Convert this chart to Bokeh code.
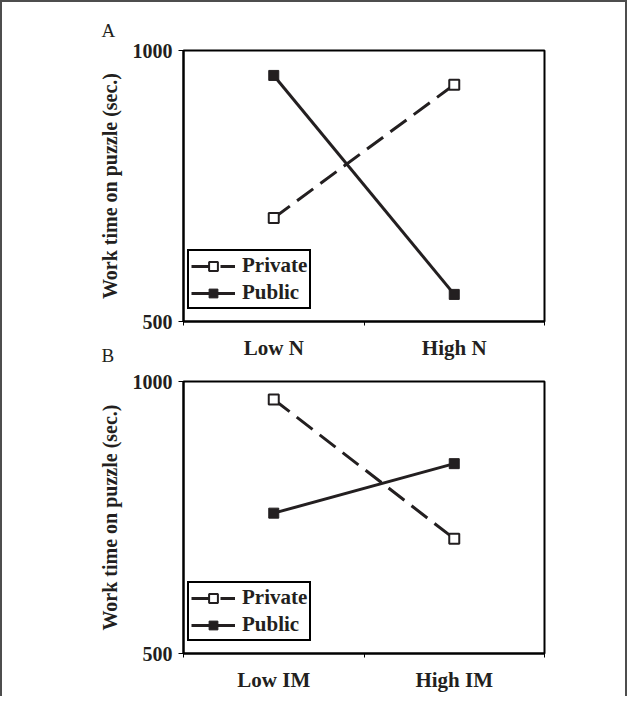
from bokeh.plotting import figure
from bokeh.models import Range1d, FixedTicker, Legend, LegendItem, Title
from bokeh.layouts import column
from bokeh.embed import file_html
from bokeh.resources import INLINE

# ---- data ----
categories_a = ["Low N", "High N"]
private_a = [691, 937]
public_a = [954, 550]

categories_b = ["Low IM", "High IM"]
private_b = [967, 711]
public_b = [758, 849]

y_ticks = [500, 1000]
y_title = "Work time on puzzle (sec.)"
series_names = ["Private", "Public"]
panel_labels = ["A", "B"]

INK = "#231f20"
FONT = "Liberation Serif"


def make_panel(cats, priv, pub, height, b_top, b_bottom, label, label_standoff):
    n = len(cats)
    xs = [i + 0.5 for i in range(n)]
    p = figure(width=623, height=height,
               x_range=Range1d(0, n), y_range=Range1d(y_ticks[0], y_ticks[-1]),
               output_backend="svg", toolbar_location=None,
               min_border_left=181, min_border_right=81,
               min_border_top=b_top, min_border_bottom=b_bottom)
    p.grid.visible = False
    p.outline_line_color = "black"
    p.outline_line_width = 2
    p.outline_line_alpha = 1.0

    xa = p.xaxis[0]
    xa.ticker = FixedTicker(ticks=xs, minor_ticks=[float(i) for i in range(n + 1)])
    xa.major_label_overrides = {x: c for x, c in zip(xs, cats)}
    xa.major_tick_line_color = None
    xa.major_tick_out = 0
    xa.minor_tick_out = 4
    xa.minor_tick_in = 0
    xa.minor_tick_line_color = "black"
    xa.minor_tick_line_width = 1
    xa.axis_line_width = 2
    xa.axis_line_color = "black"
    xa.major_label_text_font = FONT
    xa.major_label_text_font_style = "bold"
    xa.major_label_text_font_size = "21px"
    xa.major_label_text_color = INK
    xa.major_label_standoff = 10

    ya = p.yaxis[0]
    ya.ticker = FixedTicker(ticks=y_ticks, minor_ticks=[])
    ya.major_tick_out = 5
    ya.major_tick_in = 0
    ya.major_tick_line_color = "black"
    ya.major_tick_line_width = 1
    ya.minor_tick_line_color = None
    ya.axis_line_width = 2
    ya.axis_line_color = "black"
    ya.major_label_text_font = FONT
    ya.major_label_text_font_style = "bold"
    ya.major_label_text_font_size = "20px"
    ya.major_label_text_color = INK
    ya.major_label_standoff = 6
    ya.axis_label = y_title
    ya.axis_label_text_font = FONT
    ya.axis_label_text_font_style = "bold"
    ya.axis_label_text_font_size = "20px"
    ya.axis_label_text_color = INK
    ya.axis_label_standoff = 9

    l1 = p.line(xs, priv, line_color=INK, line_width=3, line_dash="20 9")
    s1 = p.scatter(xs, priv, marker="square", size=10, fill_color="white",
                   line_color=INK, line_width=2)
    l2 = p.line(xs, pub, line_color=INK, line_width=3)
    s2 = p.scatter(xs, pub, marker="square", size=10, fill_color=INK,
                   line_color=INK, line_width=1)

    legend = Legend(items=[LegendItem(label=series_names[0], renderers=[l1, s1]),
                           LegendItem(label=series_names[1], renderers=[l2, s2])],
                    location=(4, 12))
    legend.label_text_font = FONT
    legend.label_text_font_style = "bold"
    legend.label_text_font_size = "21px"
    legend.label_text_color = INK
    legend.border_line_color = "black"
    legend.border_line_width = 2
    legend.border_line_alpha = 1.0
    legend.background_fill_alpha = 1.0
    legend.padding = 2
    legend.spacing = 2
    legend.glyph_width = 44
    legend.glyph_height = 22
    legend.label_height = 22
    legend.label_standoff = 7
    legend.margin = 0
    p.add_layout(legend)

    p.add_layout(Title(text=label, align="left", offset=-82, standoff=label_standoff,
                       text_font=FONT, text_font_style="normal",
                       text_font_size="19px", text_color=INK), "above")
    return p


pA = make_panel(categories_a, private_a, public_a, 360, 48, 41, panel_labels[0], 20)
pB = make_panel(categories_b, private_b, public_b, 371, 56, 43, panel_labels[1], 32)
pB.border_fill_color = None
pB.margin = (-37, 0, 0, 0)

layout = column(pA, pB, spacing=0,
                styles={"border-left": "2px solid #4d4d4d",
                        "border-top": "2px solid #4d4d4d",
                        "border-right": "2px solid #4d4d4d"})

open("out.html", "w").write(file_html(layout, INLINE))
